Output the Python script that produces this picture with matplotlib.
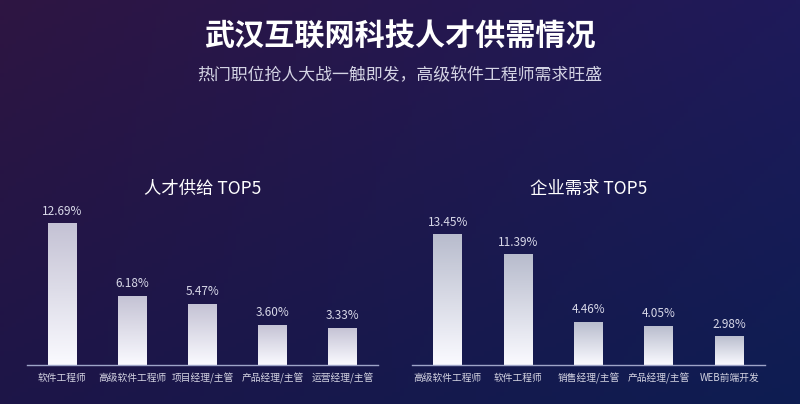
import numpy as np
import matplotlib.pyplot as plt
from matplotlib.colors import LinearSegmentedColormap

plt.rcParams['font.family'] = ['Noto Sans CJK SC', 'DejaVu Sans']

title = "武汉互联网科技人才供需情况"
subtitle = "热门职位抢人大战一触即发，高级软件工程师需求旺盛"

supply_title = "人才供给 TOP5"
supply_jobs = ["软件工程师", "高级软件工程师", "项目经理/主管", "产品经理/主管", "运营经理/主管"]
supply_vals = [12.69, 6.18, 5.47, 3.60, 3.33]

demand_title = "企业需求 TOP5"
demand_jobs = ["高级软件工程师", "软件工程师", "销售经理/主管", "产品经理/主管", "WEB前端开发"]
demand_vals = [13.45, 11.39, 4.46, 4.05, 2.98]

W, H = 800, 404
fig = plt.figure(figsize=(W / 100, H / 100), dpi=100)

# background gradient: purple top-left -> navy bottom-right
bg = fig.add_axes([0, 0, 1, 1])
bg.axis("off")
xs = np.linspace(0, 1, 200)
ys = np.linspace(0, 1, 100)
X, Y = np.meshgrid(xs, ys)
tl = np.array([0x2e, 0x15, 0x42]) / 255
tr = np.array([0x1f, 0x1a, 0x5a]) / 255
bl = np.array([0x1d, 0x15, 0x48]) / 255
br = np.array([0x0e, 0x1d, 0x52]) / 255
img = (tl * ((1 - X) * (1 - Y))[..., None] + tr * (X * (1 - Y))[..., None]
       + bl * ((1 - X) * Y)[..., None] + br * (X * Y)[..., None])
bg.imshow(img, extent=[0, 1, 0, 1], aspect="auto", origin="upper")
bg.set_xlim(0, 1)
bg.set_ylim(0, 1)

fig.text(0.5, 1 - 37 / H, title, ha="center", va="center", color="white",
         fontsize=21.7, fontweight="bold")
fig.text(0.5, 1 - 75 / H, subtitle, ha="center", va="center", color="#d4d4e4",
         fontsize=12.2)


def panel(left_px, right_px, jobs, vals, ymax, head, top_color):
    base = 365
    height = 150
    ax = fig.add_axes([left_px / W, 1 - base / H, (right_px - left_px) / W, height / H])
    ax.patch.set_alpha(0)
    x = np.arange(len(jobs))
    bars = ax.bar(x, vals, width=0.41, color="none", edgecolor="none")
    cmap = LinearSegmentedColormap.from_list("barg", [top_color, "#fafaff"])
    grad = np.linspace(0, 1, 100).reshape(-1, 1)
    for b, v in zip(bars, vals):
        x0, w = b.get_x(), b.get_width()
        im = ax.imshow(grad, cmap=cmap, extent=[x0, x0 + w, 0, v], origin="upper",
                       aspect="auto", zorder=2)
        im.set_clip_path(b)
        ax.annotate(f"{v:.2f}%", (x0 + w / 2, v), xytext=(0, 8.5), textcoords="offset points",
                    ha="center", va="center", color="#d8d8e8", fontsize=8.5)
    ax.set_xlim(-0.507, len(jobs) - 0.493)
    ax.set_ylim(0, ymax)
    ax.set_xticks(x)
    ax.set_xticklabels(jobs, color="#d4d4e2", fontsize=7)
    ax.tick_params(axis="x", length=0, pad=6)
    ax.set_yticks([])
    for s in ["top", "left", "right"]:
        ax.spines[s].set_visible(False)
    ax.spines["bottom"].set_color("#9ea4c8")
    ax.spines["bottom"].set_linewidth(1)
    fig.text((left_px + right_px) / 2 / W, 1 - 189 / H, head, ha="center", va="center",
             color="white", fontsize=12.5)


panel(27, 378, supply_jobs, supply_vals, 150 / 11.2, supply_title, "#c4c2d4")
panel(412, 765, demand_jobs, demand_vals, 150 / 9.74, demand_title, "#b8bccd")

fig.savefig("out.png", dpi=100)
